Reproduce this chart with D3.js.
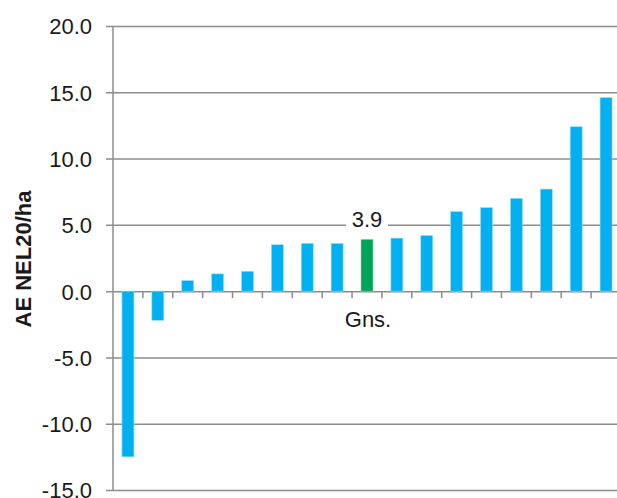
<!DOCTYPE html>
<html>
<head>
<meta charset="utf-8">
<script src="https://cdn.jsdelivr.net/npm/d3@7"></script>
<style>
  body { margin: 0; background: #fff; }
  svg { display: block; font-family: Arial, "Liberation Sans", sans-serif; }
  .tickLabel { font-size: 22px; fill: #1a1a1a; }
  .grid { stroke: #8c8c8c; stroke-width: 1.5; }
</style>
</head>
<body>
<script>
// chart data
var labels = ["", "", "", "", "", "", "", "", "Gns.", "", "", "", "", "", "", "", ""];
var values = [-12.5, -2.2, 0.8, 1.3, 1.5, 3.5, 3.6, 3.6, 3.9, 4.0, 4.2, 6.0, 6.3, 7.0, 7.7, 12.4, 14.6];
var highlight = "Gns.";
var yTicks = [-15, -10, -5, 0, 5, 10, 15, 20];
var yTitle = "AE NEL20/ha";

var width = 617, height = 498;
var plotLeft = 113, plotRight = 621, plotTop = 26, plotBottom = 490;

// plain hyphen for negatives, like the original
var fmt = d3.formatLocale({decimal: ".", thousands: ",", grouping: [3], currency: ["", ""], minus: "-"}).format(".1f");

var svg = d3.select("body").append("svg").attr("width", width).attr("height", height);

var y = d3.scaleLinear().domain([-15, 20]).range([plotBottom, plotTop]);
var x = d3.scaleBand().domain(d3.range(values.length)).range([plotLeft, plotRight])
  .paddingInner(0.6).paddingOuter(0.3);
var step = x.step();

// gridlines + y labels
var yAxis = d3.axisLeft(y).tickValues(yTicks).tickSize(7).tickFormat(fmt);
var gy = svg.append("g").attr("transform", "translate(" + plotLeft + ",0)").call(yAxis);
gy.select(".domain").remove();
gy.selectAll(".tick line").attr("class", "grid").attr("x2", width - plotLeft + 10).attr("x1", -7);
gy.selectAll(".tick text").attr("class", "tickLabel").attr("x", -21).attr("dy", "0.36em");
gy.attr("font-family", null).attr("font-size", null);

// left axis line
svg.append("line").attr("class", "grid")
  .attr("x1", plotLeft).attr("x2", plotLeft).attr("y1", plotTop).attr("y2", plotBottom);

// bars
svg.selectAll(".bar").data(values).enter().append("rect")
  .attr("class", "bar")
  .attr("x", function(d, i) { return x(i); })
  .attr("width", x.bandwidth())
  .attr("y", function(d) { return y(Math.max(0, d)); })
  .attr("height", function(d) { return Math.abs(y(d) - y(0)); })
  .attr("fill", function(d, i) { return labels[i] == highlight ? "#00a35a" : "#00b0f0"; })
  .attr("stroke", function(d, i) { return labels[i] == highlight ? "#7fd1ac" : "#9adcf7"; })
  .attr("stroke-width", 0.6);

// category tick marks on the zero line
var boundaries = d3.range(1, values.length + 1).map(function(i) { return plotLeft + i * step; });
svg.selectAll(".xtick").data(boundaries).enter().append("line")
  .attr("class", "grid")
  .attr("x1", function(d) { return d; }).attr("x2", function(d) { return d; })
  .attr("y1", y(0)).attr("y2", y(0) + 7);

// category labels
svg.selectAll(".catLabel").data(labels).enter().append("text")
  .attr("class", "tickLabel")
  .attr("x", function(d, i) { return x(i) + x.bandwidth() / 2 + 1; })
  .attr("y", y(0) + 36)
  .attr("text-anchor", "middle")
  .text(function(d) { return d; });

// value label for highlighted bar
var hi = labels.indexOf(highlight);
var lx = x(hi) + x.bandwidth() / 2;
var ly = y(values[hi]) - 12;
svg.append("rect").attr("x", lx - 21).attr("y", ly - 18).attr("width", 42).attr("height", 22).attr("fill", "#fff");
svg.append("text").attr("class", "tickLabel")
  .attr("x", lx).attr("y", ly).attr("text-anchor", "middle")
  .text(fmt(values[hi]));

// y axis title
svg.append("text")
  .attr("transform", "translate(31," + ((plotTop + plotBottom) / 2 + 1) + ") rotate(-90)")
  .attr("text-anchor", "middle")
  .style("font-size", "22px").style("font-weight", "bold").style("fill", "#1a1a1a")
  .text(yTitle);
</script>
</body>
</html>
